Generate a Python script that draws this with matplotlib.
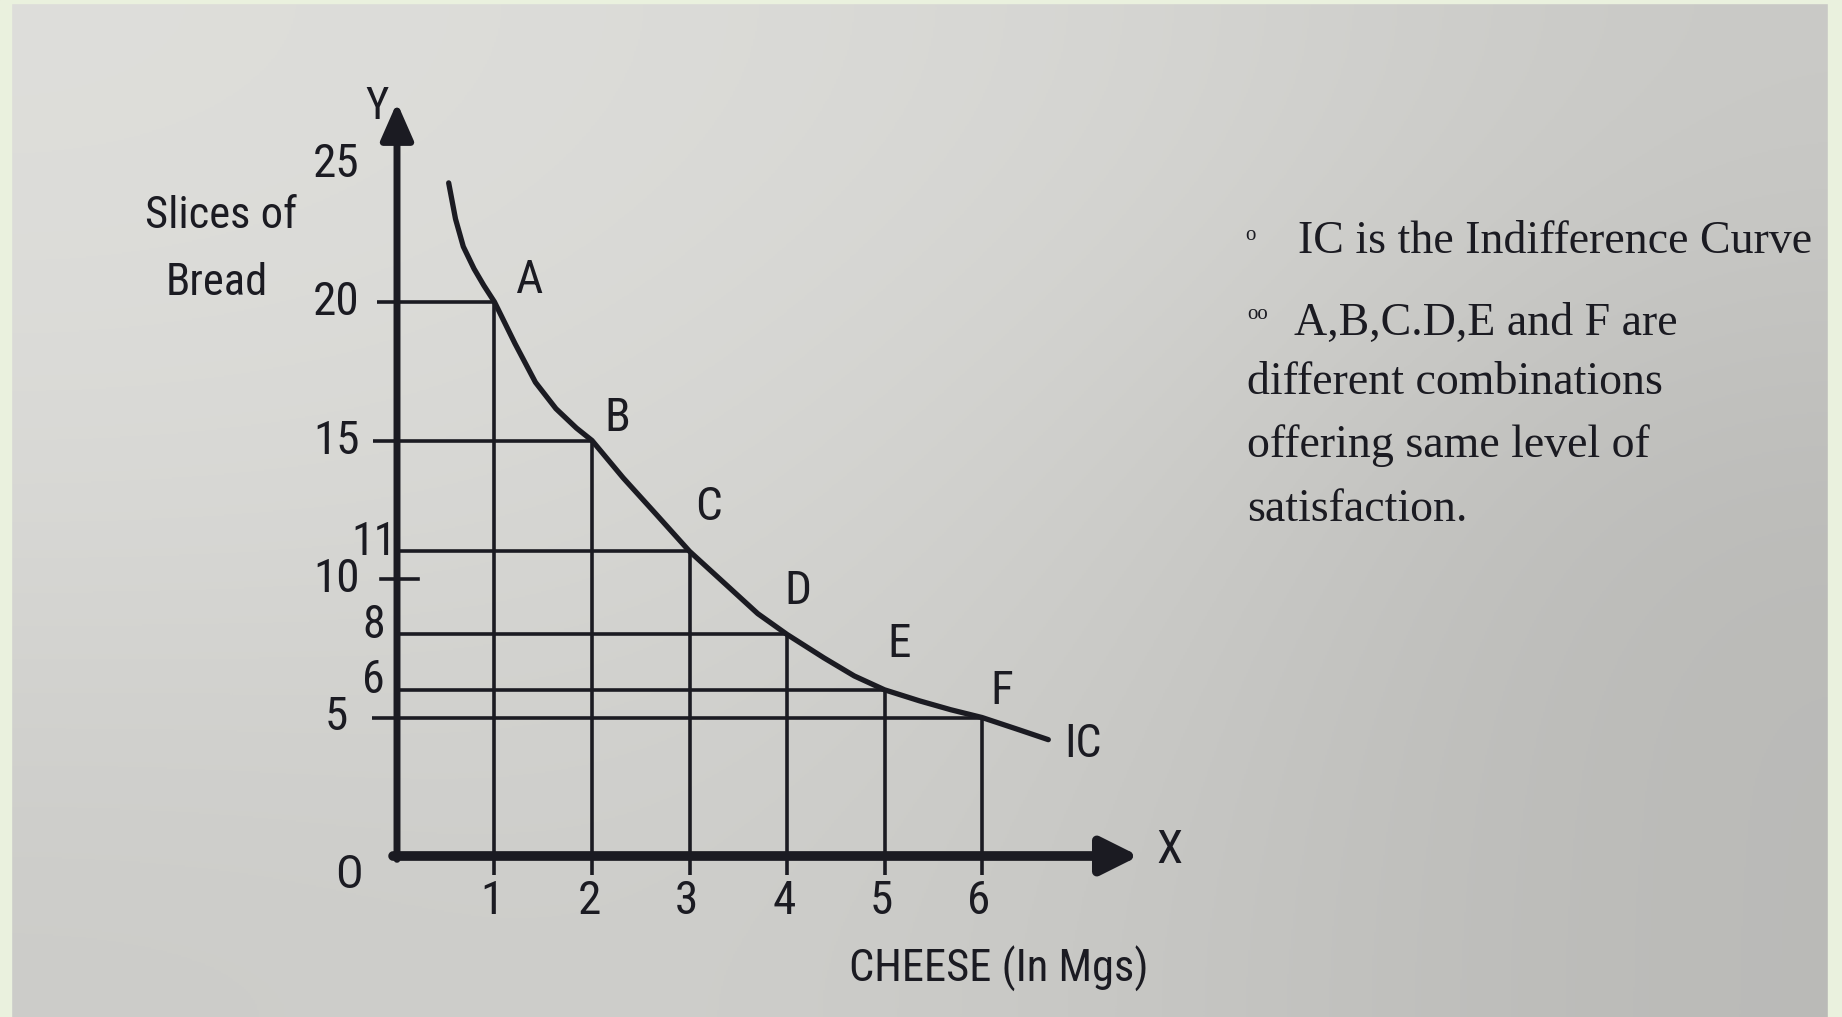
import numpy as np
import matplotlib
matplotlib.use("Agg")
import matplotlib.pyplot as plt
from matplotlib.patches import Rectangle

# combinations on the indifference curve (cheese, bread)
points = ["A", "B", "C", "D", "E", "F"]
cheese = [1, 2, 3, 4, 5, 6]
bread = [20, 15, 11, 8, 6, 5]

# the drawn curve
curve_x = [0.53, 0.60, 0.68, 0.79, 0.89, 1.0, 1.21, 1.42, 1.63, 1.84, 2.0, 2.32, 2.66,
           3.0, 3.38, 3.70, 4.0, 4.38, 4.69, 5.0, 5.36, 5.68, 6.0, 6.36, 6.68]
curve_y = [24.3, 23.0, 22.0, 21.2, 20.6, 20.0, 18.5, 17.1, 16.15, 15.45, 15.0, 13.65, 12.33,
           11.0, 9.78, 8.75, 8.0, 7.15, 6.5, 6.0, 5.6, 5.28, 5.0, 4.58, 4.2]

y_ticks_big = [25, 20, 15, 10, 5]
y_ticks_small = [11, 8, 6]
x_ticks = [1, 2, 3, 4, 5, 6]

notes = [
    "IC is the Indifference Curve",
    "A,B,C.D,E and F are",
    "different combinations",
    "offering same level of",
    "satisfaction.",
]

INK = "#1b1b22"
SANS = ["Liberation Sans Narrow", "Roboto Condensed", "Liberation Sans", "DejaVu Sans"]
SERIF = ["Liberation Serif", "DejaVu Serif"]

W, H = 1842, 1017
X0, XU = 397, 97.5   # pixel of x=0, pixels per unit
Y0, YU = 856, 27.7   # pixel row of y=0, pixels per unit

fig = plt.figure(figsize=(W / 100, H / 100), dpi=100)
ax = fig.add_axes([0, 0, 1, 1])
xlim = (-X0 / XU, (W - X0) / XU)
ylim = (-(H - Y0) / YU, Y0 / YU)

# photographed paper: soft grey shading
shade = np.array([
    [0.87, 0.86, 0.84, 0.79],
    [0.85, 0.84, 0.80, 0.73],
    [0.80, 0.81, 0.78, 0.73],
])
bg = np.dstack([shade, shade, shade * 0.985])
ax.imshow(bg, extent=(*xlim, *ylim), aspect="auto", interpolation="bicubic", zorder=0)
ax.set_xlim(*xlim)
ax.set_ylim(*ylim)
ax.axis("off")

green = "#eaf1de"
for r in [(0, 0, 11 / W, 1), (0, 1 - 3 / H, 1, 3 / H), (1828 / W, 0, 14 / W, 1)]:
    fig.patches.append(Rectangle(r[:2], r[2], r[3], transform=fig.transFigure,
                                 color=green, zorder=5))

# axes with arrows
ax.annotate("", xy=(0, 27.2), xytext=(0, -0.12),
            arrowprops=dict(arrowstyle="-|>,head_length=0.5,head_width=0.22",
                            lw=5, color=INK, mutation_scale=45,
                            shrinkA=0, shrinkB=0), zorder=4)
ax.annotate("", xy=(7.61, 0), xytext=(-0.04, 0),
            arrowprops=dict(arrowstyle="-|>,head_length=0.5,head_width=0.25",
                            lw=7, color=INK, mutation_scale=45,
                            shrinkA=0, shrinkB=0), zorder=4)

# dropped lines from every combination
left_ext = {20: -0.2, 15: -0.25, 11: 0, 8: 0, 6: 0, 5: -0.26}
for x, y in zip(cheese, bread):
    ax.plot([x, x], [y, -0.7], color=INK, lw=2.6, zorder=3, solid_capstyle="butt")
    ax.plot([left_ext[y], x], [y, y], color=INK, lw=2.6, zorder=3, solid_capstyle="butt")
ax.plot([-0.16, 0.22], [10, 10], color=INK, lw=2.6, zorder=3)

ax.plot(curve_x, curve_y, color=INK, lw=3.8, zorder=4,
        solid_capstyle="round", solid_joinstyle="round")

txt = dict(family=SANS, color=INK, ha="center", va="center")

lab_off = [(0.36, 0.8), (0.26, 0.8), (0.19, 1.6), (0.11, 1.57), (0.15, 1.65), (0.2, 0.96)]
for name, x, y, (dx, dy) in zip(points, cheese, bread, lab_off):
    ax.text(x + dx, y + dy, name, fontsize=34, **txt)

for v in y_ticks_big:
    ax.text(-0.62, v, str(v), fontsize=34, **txt)
for v in y_ticks_small:
    ax.text(-0.24, v + 0.35, str(v), fontsize=33, **txt)
for v in x_ticks:
    ax.text(v - 0.03, -1.62, str(v), fontsize=34, **txt)

ax.text(-0.49, -0.69, "O", fontsize=33, **txt)
ax.text(7.92, 0.2, "X", fontsize=34, **txt)
ax.text(-0.2, 27.05, "Y", fontsize=32, **txt)
ax.text(7.04, 4.05, "IC", fontsize=33, **txt)
ax.text(6.17, -4.08, "CHEESE (In Mgs)", fontsize=32, **txt)
ax.text(-1.8, 23.1, "Slices of", fontsize=32, **txt)
ax.text(-1.85, 20.7, "Bread", fontsize=32, **txt)

# notes on the right
note_left = [1298, 1294, 1247, 1247, 1247]
note_base = [253, 335, 394, 457, 521]
for s, px, py in zip(notes, note_left, note_base):
    fig.text(px / W, 1 - py / H, s, family=SERIF, fontsize=33, color=INK,
             ha="left", va="baseline")
fig.text(1250 / W, 1 - 236 / H, "o", family=SERIF, fontsize=15, color=INK,
         ha="center", va="center")
fig.text(1258 / W, 1 - 314 / H, "oo", family=SERIF, fontsize=15, color=INK,
         ha="center", va="center")

fig.savefig("out.png", dpi=100)
